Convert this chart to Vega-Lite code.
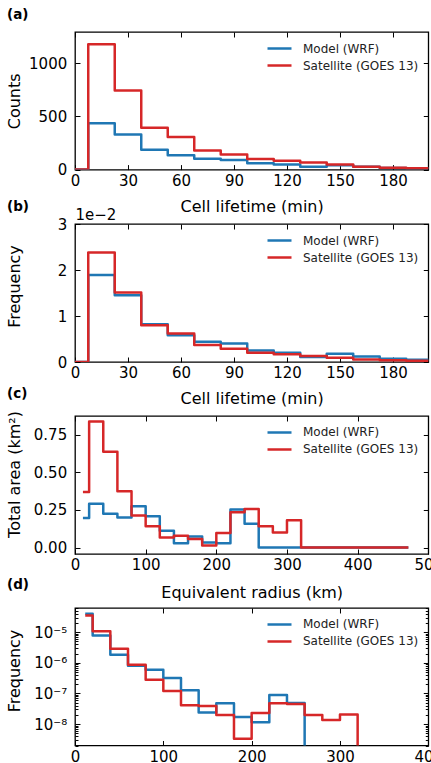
{
  "$schema": "https://vega.github.io/schema/vega-lite/v6.json",
  "background": "white",
  "padding": {"left": 5, "top": 7, "right": 0, "bottom": 0},
  "autosize": {"type": "pad"},
  "spacing": 54,
  "bounds": "flush",
  "resolve": {"legend": {"color": "independent"}},
  "config": {
    "font": "DejaVu Sans",
    "view": {"stroke": "black", "strokeWidth": 1.3},
    "axis": {
      "domain": false, "grid": false, "tickColor": "black", "tickSize": -5, "tickWidth": 1,
      "labelFont": "DejaVu Sans", "labelFontSize": 15, "labelColor": "black",
      "titleFont": "DejaVu Sans", "titleFontSize": 16, "titleFontWeight": "normal", "titleColor": "black",
      "labelFlush": false, "labelOverlap": false
    },
    "axisX": {"labelPadding": 8.7, "titleY": 42, "titleBaseline": "alphabetic"},
    "axisY": {"labelPadding": 13.3, "titleX": -55.5, "titleBaseline": "alphabetic", "titleAngle": -90},
    "legend": {
      "orient": "none", "legendX": 197, "legendY": 9, "padding": 0,
      "symbolType": "M-2,0H2", "symbolSize": 144, "symbolStrokeWidth": 2.5,
      "labelFont": "DejaVu Sans", "labelFontSize": 12, "labelColor": "#222", "labelOffset": 16, "rowPadding": 3
    },
    "line": {"strokeWidth": 2.5, "interpolate": "step-after", "strokeCap": "square", "strokeJoin": "round"},
    "title": {"font": "DejaVu Sans", "fontSize": 13.5, "fontWeight": "bold", "anchor": "start", "frame": "group", "baseline": "alphabetic", "color": "black"}
  },
  "datasets": {
    "a": [
      {"x": -7.5, "y": 0, "series": "Model (WRF)"}, {"x": 7.5, "y": 436, "series": "Model (WRF)"}, {"x": 22.5, "y": 330, "series": "Model (WRF)"}, {"x": 37.5, "y": 187, "series": "Model (WRF)"}, {"x": 52.5, "y": 134, "series": "Model (WRF)"}, {"x": 67.5, "y": 102, "series": "Model (WRF)"}, {"x": 82.5, "y": 90, "series": "Model (WRF)"}, {"x": 97.5, "y": 59, "series": "Model (WRF)"}, {"x": 112.5, "y": 47, "series": "Model (WRF)"}, {"x": 127.5, "y": 27, "series": "Model (WRF)"}, {"x": 142.5, "y": 41, "series": "Model (WRF)"}, {"x": 157.5, "y": 28, "series": "Model (WRF)"}, {"x": 172.5, "y": 16, "series": "Model (WRF)"}, {"x": 187.5, "y": 12, "series": "Model (WRF)"}, {"x": 202.5, "y": 12, "series": "Model (WRF)"},
      {"x": -7.5, "y": 0, "series": "Satellite (GOES 13)"}, {"x": 7.5, "y": 1180, "series": "Satellite (GOES 13)"}, {"x": 22.5, "y": 745, "series": "Satellite (GOES 13)"}, {"x": 37.5, "y": 395, "series": "Satellite (GOES 13)"}, {"x": 52.5, "y": 308, "series": "Satellite (GOES 13)"}, {"x": 67.5, "y": 180, "series": "Satellite (GOES 13)"}, {"x": 82.5, "y": 142, "series": "Satellite (GOES 13)"}, {"x": 97.5, "y": 99, "series": "Satellite (GOES 13)"}, {"x": 112.5, "y": 84, "series": "Satellite (GOES 13)"}, {"x": 127.5, "y": 66, "series": "Satellite (GOES 13)"}, {"x": 142.5, "y": 47, "series": "Satellite (GOES 13)"}, {"x": 157.5, "y": 27, "series": "Satellite (GOES 13)"}, {"x": 172.5, "y": 18, "series": "Satellite (GOES 13)"}, {"x": 187.5, "y": 12, "series": "Satellite (GOES 13)"}, {"x": 202.5, "y": 12, "series": "Satellite (GOES 13)"}
    ],
    "b": [
      {"x": -7.5, "y": 0, "series": "Model (WRF)"}, {"x": 7.5, "y": 0.0189, "series": "Model (WRF)"}, {"x": 22.5, "y": 0.0145, "series": "Model (WRF)"}, {"x": 37.5, "y": 0.0082, "series": "Model (WRF)"}, {"x": 52.5, "y": 0.0058, "series": "Model (WRF)"}, {"x": 67.5, "y": 0.0044, "series": "Model (WRF)"}, {"x": 82.5, "y": 0.0040, "series": "Model (WRF)"}, {"x": 97.5, "y": 0.0025, "series": "Model (WRF)"}, {"x": 112.5, "y": 0.0020, "series": "Model (WRF)"}, {"x": 127.5, "y": 0.0011, "series": "Model (WRF)"}, {"x": 142.5, "y": 0.0018, "series": "Model (WRF)"}, {"x": 157.5, "y": 0.0012, "series": "Model (WRF)"}, {"x": 172.5, "y": 0.0007, "series": "Model (WRF)"}, {"x": 187.5, "y": 0.0005, "series": "Model (WRF)"}, {"x": 202.5, "y": 0.0005, "series": "Model (WRF)"},
      {"x": -7.5, "y": 0, "series": "Satellite (GOES 13)"}, {"x": 7.5, "y": 0.0238, "series": "Satellite (GOES 13)"}, {"x": 22.5, "y": 0.0151, "series": "Satellite (GOES 13)"}, {"x": 37.5, "y": 0.0080, "series": "Satellite (GOES 13)"}, {"x": 52.5, "y": 0.0062, "series": "Satellite (GOES 13)"}, {"x": 67.5, "y": 0.0037, "series": "Satellite (GOES 13)"}, {"x": 82.5, "y": 0.0029, "series": "Satellite (GOES 13)"}, {"x": 97.5, "y": 0.0020, "series": "Satellite (GOES 13)"}, {"x": 112.5, "y": 0.0017, "series": "Satellite (GOES 13)"}, {"x": 127.5, "y": 0.0013, "series": "Satellite (GOES 13)"}, {"x": 142.5, "y": 0.00095, "series": "Satellite (GOES 13)"}, {"x": 157.5, "y": 0.00055, "series": "Satellite (GOES 13)"}, {"x": 172.5, "y": 0.0004, "series": "Satellite (GOES 13)"}, {"x": 187.5, "y": 0.00025, "series": "Satellite (GOES 13)"}, {"x": 202.5, "y": 0.00025, "series": "Satellite (GOES 13)"}
    ],
    "c": [
      {"x": 13, "y": 0.197, "series": "Model (WRF)"}, {"x": 20, "y": 0.291, "series": "Model (WRF)"}, {"x": 40, "y": 0.224, "series": "Model (WRF)"}, {"x": 60, "y": 0.20, "series": "Model (WRF)"}, {"x": 80, "y": 0.275, "series": "Model (WRF)"}, {"x": 100, "y": 0.208, "series": "Model (WRF)"}, {"x": 120, "y": 0.112, "series": "Model (WRF)"}, {"x": 140, "y": 0.029, "series": "Model (WRF)"}, {"x": 160, "y": 0.074, "series": "Model (WRF)"}, {"x": 180, "y": 0.034, "series": "Model (WRF)"}, {"x": 200, "y": 0.029, "series": "Model (WRF)"}, {"x": 220, "y": 0.253, "series": "Model (WRF)"}, {"x": 240, "y": 0.159, "series": "Model (WRF)"}, {"x": 260, "y": 0, "series": "Model (WRF)"}, {"x": 470, "y": 0, "series": "Model (WRF)"},
      {"x": 13, "y": 0.369, "series": "Satellite (GOES 13)"}, {"x": 20, "y": 0.839, "series": "Satellite (GOES 13)"}, {"x": 40, "y": 0.638, "series": "Satellite (GOES 13)"}, {"x": 60, "y": 0.374, "series": "Satellite (GOES 13)"}, {"x": 80, "y": 0.213, "series": "Satellite (GOES 13)"}, {"x": 100, "y": 0.141, "series": "Satellite (GOES 13)"}, {"x": 120, "y": 0.067, "series": "Satellite (GOES 13)"}, {"x": 140, "y": 0.078, "series": "Satellite (GOES 13)"}, {"x": 160, "y": 0.056, "series": "Satellite (GOES 13)"}, {"x": 180, "y": 0.013, "series": "Satellite (GOES 13)"}, {"x": 200, "y": 0.096, "series": "Satellite (GOES 13)"}, {"x": 220, "y": 0.235, "series": "Satellite (GOES 13)"}, {"x": 240, "y": 0.257, "series": "Satellite (GOES 13)"}, {"x": 260, "y": 0.141, "series": "Satellite (GOES 13)"}, {"x": 280, "y": 0.10, "series": "Satellite (GOES 13)"}, {"x": 300, "y": 0.181, "series": "Satellite (GOES 13)"}, {"x": 320, "y": 0, "series": "Satellite (GOES 13)"}, {"x": 470, "y": 0, "series": "Satellite (GOES 13)"}
    ],
    "d": [
      {"x": 13, "y": 4.0e-5, "series": "Model (WRF)"}, {"x": 20, "y": 7.8e-6, "series": "Model (WRF)"}, {"x": 40, "y": 1.83e-6, "series": "Model (WRF)"}, {"x": 60, "y": 8.0e-7, "series": "Model (WRF)"}, {"x": 80, "y": 6.0e-7, "series": "Model (WRF)"}, {"x": 100, "y": 3.2e-7, "series": "Model (WRF)"}, {"x": 120, "y": 1.27e-7, "series": "Model (WRF)"}, {"x": 140, "y": 2.4e-8, "series": "Model (WRF)"}, {"x": 160, "y": 4.8e-8, "series": "Model (WRF)"}, {"x": 180, "y": 1.7e-8, "series": "Model (WRF)"}, {"x": 200, "y": 1.15e-8, "series": "Model (WRF)"}, {"x": 220, "y": 9.0e-8, "series": "Model (WRF)"}, {"x": 240, "y": 4.9e-8, "series": "Model (WRF)"}, {"x": 260, "y": 1e-12, "series": "Model (WRF)"}, {"x": 470, "y": 1e-12, "series": "Model (WRF)"},
      {"x": 13, "y": 3.5e-5, "series": "Satellite (GOES 13)"}, {"x": 20, "y": 1.08e-5, "series": "Satellite (GOES 13)"}, {"x": 40, "y": 2.9e-6, "series": "Satellite (GOES 13)"}, {"x": 60, "y": 8.7e-7, "series": "Satellite (GOES 13)"}, {"x": 80, "y": 2.8e-7, "series": "Satellite (GOES 13)"}, {"x": 100, "y": 1.2e-7, "series": "Satellite (GOES 13)"}, {"x": 120, "y": 4.1e-8, "series": "Satellite (GOES 13)"}, {"x": 140, "y": 3.9e-8, "series": "Satellite (GOES 13)"}, {"x": 160, "y": 2.0e-8, "series": "Satellite (GOES 13)"}, {"x": 180, "y": 3.3e-9, "series": "Satellite (GOES 13)"}, {"x": 200, "y": 2.3e-8, "series": "Satellite (GOES 13)"}, {"x": 220, "y": 4.8e-8, "series": "Satellite (GOES 13)"}, {"x": 240, "y": 4.5e-8, "series": "Satellite (GOES 13)"}, {"x": 260, "y": 2.0e-8, "series": "Satellite (GOES 13)"}, {"x": 280, "y": 1.35e-8, "series": "Satellite (GOES 13)"}, {"x": 300, "y": 2.05e-8, "series": "Satellite (GOES 13)"}, {"x": 320, "y": 1e-12, "series": "Satellite (GOES 13)"}, {"x": 470, "y": 1e-12, "series": "Satellite (GOES 13)"}
    ]
  },
  "vconcat": [
    {
      "width": 353.3, "height": 137.6,
      "title": {"text": "(a)", "dx": -68, "offset": 10.1},
      "data": {"name": "a"},
      "layer": [
        {
          "transform": [{"filter": "datum.series == 'Model (WRF)'"}],
          "mark": {"type": "line", "clip": true},
          "encoding": {
            "x": {"field": "x", "type": "quantitative", "scale": {"domain": [0, 200], "nice": false, "zero": false}, "axis": {"orient": "top", "labels": false, "title": null, "values": [0, 30, 60, 90, 120, 150, 180]}},
            "y": {"field": "y", "type": "quantitative", "scale": {"domain": [0, 1295], "nice": false}, "axis": {"orient": "right", "labels": false, "title": null, "values": [0, 500, 1000]}},
            "color": {"field": "series", "type": "nominal", "scale": {"domain": ["Model (WRF)", "Satellite (GOES 13)"], "range": ["#1f77b4", "#d62728"]}, "legend": {"title": null}}
          }
        },
        {
          "transform": [{"filter": "datum.series == 'Satellite (GOES 13)'"}],
          "mark": {"type": "line", "clip": true},
          "encoding": {
            "x": {"field": "x", "type": "quantitative", "scale": {"domain": [0, 200], "nice": false, "zero": false}, "axis": {"orient": "bottom", "title": "Cell lifetime (min)", "values": [0, 30, 60, 90, 120, 150, 180]}},
            "y": {"field": "y", "type": "quantitative", "scale": {"domain": [0, 1295], "nice": false}, "axis": {"orient": "left", "title": "Counts", "values": [0, 500, 1000], "format": "d"}},
            "color": {"field": "series", "type": "nominal", "scale": {"domain": ["Model (WRF)", "Satellite (GOES 13)"], "range": ["#1f77b4", "#d62728"]}, "legend": {"title": null}}
          }
        }
      ],
      "resolve": {"axis": {"x": "independent", "y": "independent"}}
    },
    {
      "width": 353.3, "height": 138,
      "title": {"text": "(b)", "dx": -68, "offset": -6.3},
      "data": {"name": "b"},
      "layer": [
        {
          "transform": [{"filter": "datum.series == 'Model (WRF)'"}],
          "mark": {"type": "line", "clip": true},
          "encoding": {
            "x": {"field": "x", "type": "quantitative", "scale": {"domain": [0, 200], "nice": false, "zero": false}, "axis": {"orient": "top", "labels": false, "title": "1e\u22122", "titleX": 0, "titleY": -5, "titleAlign": "left", "titleAngle": 0, "titleFontSize": 15, "values": [0, 30, 60, 90, 120, 150, 180]}},
            "y": {"field": "y", "type": "quantitative", "scale": {"domain": [0, 0.03], "nice": false}, "axis": {"orient": "right", "labels": false, "title": null, "values": [0, 0.01, 0.02, 0.03]}},
            "color": {"field": "series", "type": "nominal", "scale": {"domain": ["Model (WRF)", "Satellite (GOES 13)"], "range": ["#1f77b4", "#d62728"]}, "legend": {"title": null}}
          }
        },
        {
          "transform": [{"filter": "datum.series == 'Satellite (GOES 13)'"}],
          "mark": {"type": "line", "clip": true},
          "encoding": {
            "x": {"field": "x", "type": "quantitative", "scale": {"domain": [0, 200], "nice": false, "zero": false}, "axis": {"orient": "bottom", "title": "Cell lifetime (min)", "values": [0, 30, 60, 90, 120, 150, 180]}},
            "y": {"field": "y", "type": "quantitative", "scale": {"domain": [0, 0.03], "nice": false}, "axis": {"orient": "left", "title": "Frequency", "titleY": 62, "values": [0, 0.01, 0.02, 0.03], "labelExpr": "format(datum.value * 100, 'd')"}},
            "color": {"field": "series", "type": "nominal", "scale": {"domain": ["Model (WRF)", "Satellite (GOES 13)"], "range": ["#1f77b4", "#d62728"]}, "legend": {"title": null}}
          }
        }
      ],
      "resolve": {"axis": {"x": "independent", "y": "independent"}}
    },
    {
      "width": 353.3, "height": 138,
      "title": {"text": "(c)", "dx": -68, "offset": 10.1},
      "data": {"name": "c"},
      "layer": [
        {
          "transform": [{"filter": "datum.series == 'Model (WRF)'"}],
          "mark": {"type": "line", "clip": true},
          "encoding": {
            "x": {"field": "x", "type": "quantitative", "scale": {"domain": [0, 500], "nice": false, "zero": false}, "axis": {"orient": "top", "labels": false, "title": null, "values": [0, 100, 200, 300, 400, 500]}},
            "y": {"field": "y", "type": "quantitative", "scale": {"domain": [-0.043, 0.875], "nice": false, "zero": false}, "axis": {"orient": "right", "labels": false, "title": null, "values": [0, 0.25, 0.5, 0.75]}},
            "color": {"field": "series", "type": "nominal", "scale": {"domain": ["Model (WRF)", "Satellite (GOES 13)"], "range": ["#1f77b4", "#d62728"]}, "legend": {"title": null}}
          }
        },
        {
          "transform": [{"filter": "datum.series == 'Satellite (GOES 13)'"}],
          "mark": {"type": "line", "clip": true},
          "encoding": {
            "x": {"field": "x", "type": "quantitative", "scale": {"domain": [0, 500], "nice": false, "zero": false}, "axis": {"orient": "bottom", "title": "Equivalent radius (km)", "titleY": 43.5, "values": [0, 100, 200, 300, 400, 500]}},
            "y": {"field": "y", "type": "quantitative", "scale": {"domain": [-0.043, 0.875], "nice": false, "zero": false}, "axis": {"orient": "left", "title": "Total area (km\u00b2)", "titleY": 58, "values": [0, 0.25, 0.5, 0.75], "format": ".2f"}},
            "color": {"field": "series", "type": "nominal", "scale": {"domain": ["Model (WRF)", "Satellite (GOES 13)"], "range": ["#1f77b4", "#d62728"]}, "legend": {"title": null}}
          }
        }
      ],
      "resolve": {"axis": {"x": "independent", "y": "independent"}}
    },
    {
      "width": 353.3, "height": 137.5,
      "title": {"text": "(d)", "dx": -68, "offset": 10.1},
      "data": {"name": "d"},
      "layer": [
        {
          "transform": [{"filter": "datum.series == 'Model (WRF)'"}],
          "mark": {"type": "line", "clip": true},
          "encoding": {
            "x": {"field": "x", "type": "quantitative", "scale": {"domain": [0, 400], "nice": false, "zero": false}, "axis": {"orient": "top", "labels": false, "title": null, "values": [0, 100, 200, 300, 400]}},
            "y": {"field": "y", "type": "quantitative", "scale": {"type": "log", "domain": [2.0e-9, 6.2e-5], "nice": false}, "axis": {"orient": "right", "labels": false, "title": null,
              "values": [2e-9, 3e-9, 4e-9, 5e-9, 6e-9, 7e-9, 8e-9, 9e-9, 1e-8, 2e-8, 3e-8, 4e-8, 5e-8, 6e-8, 7e-8, 8e-8, 9e-8, 1e-7, 2e-7, 3e-7, 4e-7, 5e-7, 6e-7, 7e-7, 8e-7, 9e-7, 1e-6, 2e-6, 3e-6, 4e-6, 5e-6, 6e-6, 7e-6, 8e-6, 9e-6, 1e-5, 2e-5, 3e-5, 4e-5, 5e-5, 6e-5],
              "tickSize": {"condition": {"test": "abs(log(datum.value) / LN10 - round(log(datum.value) / LN10)) < 0.001", "value": -5}, "value": -3}}},
            "color": {"field": "series", "type": "nominal", "scale": {"domain": ["Model (WRF)", "Satellite (GOES 13)"], "range": ["#1f77b4", "#d62728"]}, "legend": {"title": null}}
          }
        },
        {
          "transform": [{"filter": "datum.series == 'Satellite (GOES 13)'"}],
          "mark": {"type": "line", "clip": true},
          "encoding": {
            "x": {"field": "x", "type": "quantitative", "scale": {"domain": [0, 400], "nice": false, "zero": false}, "axis": {"orient": "bottom", "title": null, "values": [0, 100, 200, 300, 400]}},
            "y": {"field": "y", "type": "quantitative", "scale": {"type": "log", "domain": [2.0e-9, 6.2e-5], "nice": false}, "axis": {"orient": "left", "title": "Frequency", "titleY": 62.5,
              "values": [2e-9, 3e-9, 4e-9, 5e-9, 6e-9, 7e-9, 8e-9, 9e-9, 1e-8, 2e-8, 3e-8, 4e-8, 5e-8, 6e-8, 7e-8, 8e-8, 9e-8, 1e-7, 2e-7, 3e-7, 4e-7, 5e-7, 6e-7, 7e-7, 8e-7, 9e-7, 1e-6, 2e-6, 3e-6, 4e-6, 5e-6, 6e-6, 7e-6, 8e-6, 9e-6, 1e-5, 2e-5, 3e-5, 4e-5, 5e-5, 6e-5],
              "tickSize": {"condition": {"test": "abs(log(datum.value) / LN10 - round(log(datum.value) / LN10)) < 0.001", "value": -5}, "value": -3},
              "labelExpr": "abs(log(datum.value) / LN10 - round(log(datum.value) / LN10)) > 0.001 ? '' : (datum.value < 5e-8 ? '10\u207b\u2078' : datum.value < 5e-7 ? '10\u207b\u2077' : datum.value < 5e-6 ? '10\u207b\u2076' : '10\u207b\u2075')"}},
            "color": {"field": "series", "type": "nominal", "scale": {"domain": ["Model (WRF)", "Satellite (GOES 13)"], "range": ["#1f77b4", "#d62728"]}, "legend": {"title": null}}
          }
        }
      ],
      "resolve": {"axis": {"x": "independent", "y": "independent"}}
    }
  ]
}
